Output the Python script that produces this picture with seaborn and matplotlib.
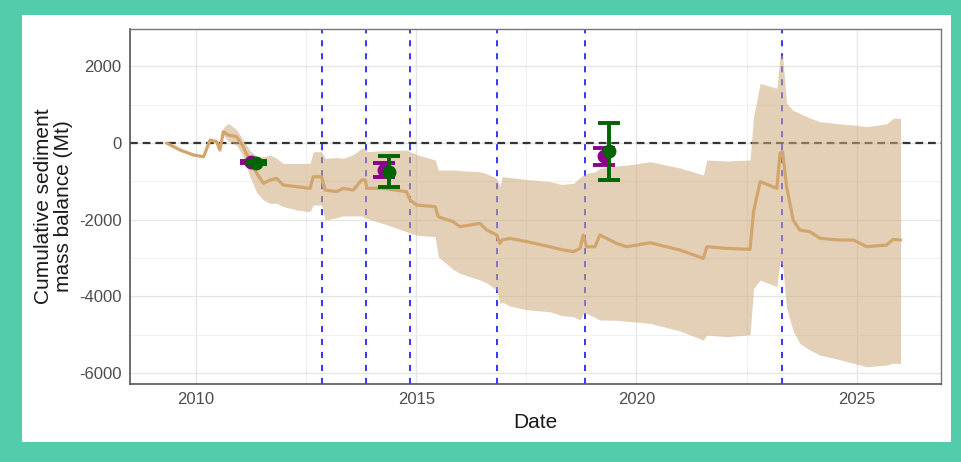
import numpy as np
import pandas as pd
import matplotlib
matplotlib.use("Agg")
import matplotlib.pyplot as plt
import seaborn as sns
from matplotlib.patches import Rectangle
from matplotlib.ticker import FixedLocator

# ---------------- data ----------------
years = [2009.33, 2009.64, 2009.94, 2010.17, 2010.32, 2010.47, 2010.54, 2010.62,
         2010.73, 2010.92, 2011.07, 2011.23, 2011.38, 2011.53, 2011.68, 2011.83,
         2011.98, 2012.29, 2012.59, 2012.66, 2012.85, 2012.93, 2013.19, 2013.34,
         2013.57, 2013.76, 2013.84, 2013.88, 2014.25, 2014.78, 2014.86, 2015.01,
         2015.43, 2015.50, 2015.84, 2015.99, 2016.45, 2016.60, 2016.83, 2016.90,
         2016.95, 2017.13, 2017.51, 2018.04, 2018.30, 2018.57, 2018.72, 2018.79,
         2018.87, 2019.06, 2019.17, 2019.55, 2019.78, 2020.31, 2020.99, 2021.52,
         2021.60, 2022.05, 2022.58, 2022.66, 2022.81, 2023.19, 2023.26, 2023.32,
         2023.41, 2023.56, 2023.71, 2023.94, 2024.17, 2024.62, 2024.93, 2025.23,
         2025.68, 2025.83, 2026.00]
mid = [0, -183, -313, -357, 78, 34, -183, 295,
       209, 165, -96, -487, -791, -1052, -965, -922,
       -1095, -1139, -1182, -878, -878, -1226, -1269, -1182,
       -1226, -965, -965, -1182, -1182, -1269, -1487, -1617,
       -1660, -1921, -2052, -2182, -2095, -2269, -2399, -2617,
       -2530, -2486, -2573, -2704, -2780, -2834, -2747, -2399,
       -2704, -2704, -2399, -2617, -2704, -2600, -2791, -3008,
       -2704, -2747, -2773, -1791, -1008, -1182, -270, -226,
       -1139, -2008, -2269, -2313, -2486, -2530, -2530, -2704,
       -2660, -2512, -2530]
lower = [0, -200, -330, -380, 40, 0, -220, 200,
         50, -50, -350, -900, -1300, -1487, -1573, -1573,
         -1660, -1747, -1791, -1617, -1617, -2008, -1950, -1900,
         -1900, -1900, -1965, -1965, -2100, -2313, -2350, -2400,
         -2443, -2965, -3300, -3399, -3573, -3650, -3834, -4181,
         -4150, -4250, -4350, -4400, -4500, -4529, -4616, -4450,
         -4442, -4550, -4616, -4620, -4650, -4703, -4900, -5138,
         -5008, -5050, -5000, -3800, -3573, -3747, -3095, -3200,
         -4300, -4900, -5225, -5400, -5529, -5650, -5746, -5833,
         -5790, -5746, -5746]
upper = [0, -165, -295, -335, 115, 70, -145, 400,
         513, 350, 78, -200, -350, -357, -313, -400,
         -530, -530, -530, -226, -226, -400, -380, -400,
         -300, -139, -150, -226, -200, -183, -226, -300,
         -443, -704, -704, -720, -750, -800, -922, -1139,
         -878, -900, -950, -1008, -1080, -1052, -900, -835,
         -791, -750, -661, -600, -580, -487, -650, -835,
         -443, -470, -443, 687, 1556, 1426, 2251, 2295,
         1035, 850, 774, 650, 556, 500, 469, 426,
         500, 644, 644]

event_years = [2012.87, 2013.85, 2014.86, 2016.84, 2018.83, 2023.31]

green_years = [2011.36, 2014.39, 2019.38]
green_vals = [-513, -750, -220]
green_err = [40, 400, 750]

purple_years = [2011.24, 2014.26, 2019.27]
purple_vals = [-500, -704, -350]
purple_err = [30, 180, 225]

x_ticks = [2010, 2015, 2020, 2025]
x_tick_labels = ["2010", "2015", "2020", "2025"]
y_ticks = [-6000, -4000, -2000, 0, 2000]
y_tick_labels = ["-6000", "-4000", "-2000", "0", "2000"]
x_minor = [2012.5, 2017.5, 2022.5]
y_minor = [-5000, -3000, -1000, 1000]

df = pd.DataFrame({"year": years, "mid": mid, "lower": lower, "upper": upper})

# ---------------- style ----------------
sns.set_style("white")
plt.rcParams['font.family'] = ['Liberation Sans', 'DejaVu Sans']
plt.rcParams['axes.unicode_minus'] = False

fig = plt.figure(figsize=(9.62, 4.62), dpi=100, facecolor="#52CCAB")
fig.patches.append(Rectangle((22 / 962, 20 / 462), (951 - 22) / 962, (442 - 15) / 462,
                             transform=fig.transFigure, facecolor="white",
                             edgecolor="none", zorder=-10))
ax = fig.add_axes([130 / 962, 78 / 462, 810.7 / 962, 355 / 462])
ax.set_zorder(1)
ax.set_facecolor("white")

# grid
ax.xaxis.set_major_locator(FixedLocator(x_ticks))
ax.yaxis.set_major_locator(FixedLocator(y_ticks))
ax.xaxis.set_minor_locator(FixedLocator(x_minor))
ax.yaxis.set_minor_locator(FixedLocator(y_minor))
ax.grid(which="major", color="#E6E6E6", lw=1.0, zorder=0)
ax.grid(which="minor", color="#F0F0F0", lw=0.8, zorder=0)
ax.set_axisbelow(True)

# reference lines
ax.axhline(0, color="#333333", lw=1.6, dashes=(3.5, 2.2), zorder=2)
for ev in event_years:
    ax.axvline(ev, color="#0000FF", lw=1.1, dashes=(4, 4.5), zorder=2)

# ribbon and line
ax.fill_between(df["year"], df["lower"], df["upper"], color="#CDAA7D",
                alpha=0.55, lw=0, zorder=3)
sns.lineplot(data=df, x="year", y="mid", ax=ax, color="#D2A56C", lw=2.3,
             zorder=4, estimator=None, sort=False)

# observations
ax.errorbar(purple_years, purple_vals, yerr=purple_err, fmt="o", color="#8B008B",
            ms=9, elinewidth=2.8, capsize=8, capthick=2.8, zorder=5)
ax.errorbar(green_years, green_vals, yerr=green_err, fmt="o", color="#006400",
            ms=9, elinewidth=2.8, capsize=8, capthick=2.8, zorder=6)

ax.set_xlim(2008.50, 2026.91)
ax.set_ylim(-6284, 2973)
ax.set_xticklabels(x_tick_labels)
ax.set_yticklabels(y_tick_labels)

ax.tick_params(axis="both", which="major", length=4, width=1, color="#333333",
               labelcolor="#4D4D4D", labelsize=12, pad=2)
ax.tick_params(axis="both", which="minor", length=0)

for side in ["left", "bottom"]:
    ax.spines[side].set_color("#555555")
    ax.spines[side].set_linewidth(1.2)
for side in ["top", "right"]:
    ax.spines[side].set_color("#777777")
    ax.spines[side].set_linewidth(1.0)

ax.set_xlabel("Date", fontsize=15, color="#1A1A1A")
ax.set_ylabel("Cumulative sediment\nmass balance (Mt)", fontsize=15,
              color="#1A1A1A", linespacing=1.1)
ax.xaxis.set_label_coords(0.5, -0.082)
ax.yaxis.set_label_coords(-0.07, 0.5)

fig.savefig("out.png", dpi=100, facecolor=fig.get_facecolor())
